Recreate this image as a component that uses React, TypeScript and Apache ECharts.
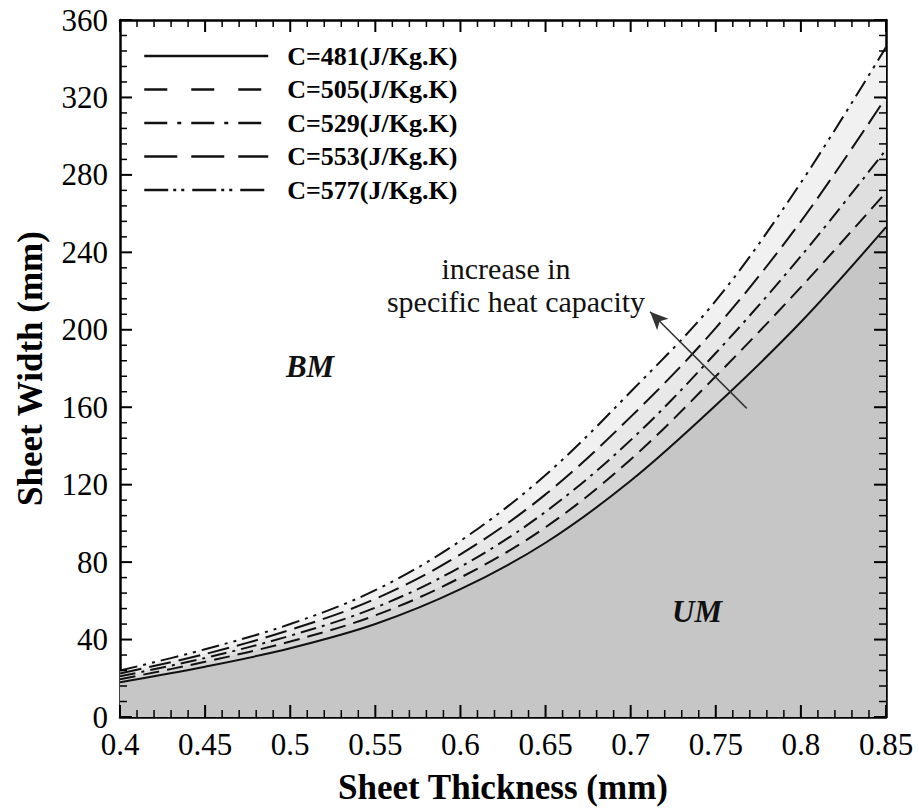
import React, { useEffect, useRef } from "react";
import * as echarts from "echarts";

const thickness = [0.4, 0.45, 0.5, 0.55, 0.6, 0.65, 0.7, 0.75, 0.8, 0.85];
const width481 = [18, 26, 35.5, 48, 66, 90, 122, 161, 204, 253];
const width505 = [19.5, 28.5, 39, 52.5, 72, 98, 133, 176, 222, 271];
const width529 = [21, 30.5, 42, 56.5, 77.5, 106, 143, 188, 238, 293];
const width553 = [22.5, 32.5, 45, 61, 84, 115, 155, 201, 256, 320];
const width577 = [24, 35, 48, 65.5, 91, 125, 168, 215, 276, 346];

const names = [
  "C=481(J/Kg.K)",
  "C=505(J/Kg.K)",
  "C=529(J/Kg.K)",
  "C=553(J/Kg.K)",
  "C=577(J/Kg.K)",
];

const X_MIN = 0.4;
const X_MAX = 0.85;
const X_STEP = 0.05;
const Y_MIN = 0;
const Y_MAX = 360;
const Y_STEP = 40;
const MINOR_SPLIT = 5;

const arrowTail = [0.7682, 159.4];
const arrowHead = [0.7114, 209.3];

const SERIF = "'Liberation Serif', 'Times New Roman', serif";

export default function App() {
  const ref = useRef<HTMLDivElement>(null);
  useEffect(() => {
    if (!ref.current) return;
    const chart = echarts.init(ref.current, undefined, { renderer: "svg" });
    const toPts = (ys: number[]) => thickness.map((x, i) => [x, ys[i]]);
    const plotDash: any[] = [
      "solid",
      [16, 8],
      [16, 6, 3, 6],
      [22, 8],
      [18, 6, 3, 6, 3, 6],
    ];
    const legendDash: any[] = [
      "solid",
      [23, 24],
      [23, 10, 4, 10],
      [33, 14],
      [24, 5, 3, 5, 3, 8],
    ];
    const fills = ["#c6c6c6", "#d5d5d5", "#dfdfdf", "#e8e8e8", "#f1f1f1"];
    const datasets = [width481, width505, width529, width553, width577];

    const series: any[] = [];
    for (let i = 4; i >= 0; i--) {
      const s: any = {
        name: names[i],
        type: "line",
        data: toPts(datasets[i]),
        smooth: 0.35,
        symbol: "none",
        showSymbol: false,
        lineStyle: { color: "#111", width: 2, type: plotDash[i] },
        itemStyle: { color: "#111" },
        areaStyle: { color: fills[i], opacity: 1, origin: "start" },
        z: 2,
      };
      if (i === 0) {
        s.markLine = {
          silent: true,
          symbol: ["none", "arrow"],
          symbolSize: [12, 18],
          label: { show: false },
          lineStyle: { color: "#333", width: 1.5, type: "solid" },
          data: [[{ coord: arrowTail }, { coord: arrowHead }]],
        };
      }
      series.push(s);
    }

    // tick marks (inside, on all four sides)
    const tickData: number[][] = [];
    const nx = Math.round((X_MAX - X_MIN) / X_STEP);
    for (let i = 0; i <= nx * MINOR_SPLIT; i++) {
      const v = X_MIN + (i * X_STEP) / MINOR_SPLIT;
      tickData.push([v, Y_MIN, i % MINOR_SPLIT === 0 ? 0 : 1]);
    }
    const ny = Math.round((Y_MAX - Y_MIN) / Y_STEP);
    for (let i = 0; i <= ny * MINOR_SPLIT; i++) {
      const v = Y_MIN + (i * Y_STEP) / MINOR_SPLIT;
      tickData.push([X_MIN, v, i % MINOR_SPLIT === 0 ? 2 : 3]);
    }
    series.push({
      type: "custom",
      silent: true,
      clip: false,
      z: 20,
      data: tickData,
      encode: { x: 0, y: 1 },
      renderItem: (params: any, api: any) => {
        const kind = api.value(2);
        const major = kind === 0 || kind === 2;
        const len = major ? 12 : 7;
        const style = { stroke: "#000", lineWidth: major ? 2 : 1.5 };
        if (kind < 2) {
          const x = api.value(0);
          const a = api.coord([x, Y_MIN]);
          const b = api.coord([x, Y_MAX]);
          return {
            type: "group",
            children: [
              { type: "line", shape: { x1: a[0], y1: a[1], x2: a[0], y2: a[1] - len }, style },
              { type: "line", shape: { x1: b[0], y1: b[1], x2: b[0], y2: b[1] + len }, style },
            ],
          };
        }
        const y = api.value(1);
        const a = api.coord([X_MIN, y]);
        const b = api.coord([X_MAX, y]);
        return {
          type: "group",
          children: [
            { type: "line", shape: { x1: a[0], y1: a[1], x2: a[0] + len, y2: a[1] }, style },
            { type: "line", shape: { x1: b[0], y1: b[1], x2: b[0] - len, y2: b[1] }, style },
          ],
        };
      },
    });

    const axisLine = { show: true, onZero: false, lineStyle: { color: "#000", width: 2.5 } };

    chart.setOption({
      animation: false,
      backgroundColor: "#fff",
      grid: { left: 120, right: 33, top: 20, bottom: 94 },
      legend: {
        orient: "vertical",
        left: 138,
        top: 38,
        itemWidth: 124,
        itemHeight: 14,
        itemGap: 7.5,
        itemStyle: { opacity: 0 },
        data: names.map((n, i) => ({
          name: n,
          lineStyle: { type: legendDash[i], width: 2.5, color: "#111" },
        })),
        textStyle: {
          fontFamily: SERIF,
          fontWeight: "bold",
          fontSize: 26,
          lineHeight: 25,
          color: "#000",
          padding: [0, 0, 0, 14],
        },
      },
      xAxis: [
        {
          type: "value",
          min: X_MIN,
          max: X_MAX,
          interval: X_STEP,
          position: "bottom",
          name: "Sheet Thickness (mm)",
          nameLocation: "middle",
          nameGap: 53,
          nameTextStyle: { fontFamily: SERIF, fontWeight: "bold", fontSize: 35, color: "#000" },
          axisLabel: {
            fontFamily: SERIF,
            fontSize: 31,
            color: "#000",
            margin: 12,
            formatter: (v: number) => String(+v.toFixed(2)),
          },
          axisLine,
          axisTick: { show: false },
          splitLine: { show: false },
        },
        {
          type: "value",
          min: X_MIN,
          max: X_MAX,
          interval: X_STEP,
          position: "top",
          axisLabel: { show: false },
          axisLine,
          axisTick: { show: false },
          splitLine: { show: false },
        },
      ],
      yAxis: [
        {
          type: "value",
          min: Y_MIN,
          max: Y_MAX,
          interval: Y_STEP,
          position: "left",
          name: "Sheet Width (mm)",
          nameLocation: "middle",
          nameGap: 72,
          nameTextStyle: { fontFamily: SERIF, fontWeight: "bold", fontSize: 35, color: "#000" },
          axisLabel: { fontFamily: SERIF, fontSize: 31, color: "#000", margin: 12 },
          axisLine,
          axisTick: { show: false },
          splitLine: { show: false },
        },
        {
          type: "value",
          min: Y_MIN,
          max: Y_MAX,
          interval: Y_STEP,
          position: "right",
          axisLabel: { show: false },
          axisLine,
          axisTick: { show: false },
          splitLine: { show: false },
        },
      ],
      series,
      graphic: [
        {
          type: "text",
          x: 506,
          y: 268,
          z: 10,
          style: {
            text: "increase in",
            font: `30px ${SERIF}`,
            fill: "#111",
            align: "center",
            verticalAlign: "middle",
          },
        },
        {
          type: "text",
          x: 516,
          y: 301,
          z: 10,
          style: {
            text: "specific heat capacity",
            font: `30px ${SERIF}`,
            fill: "#111",
            align: "center",
            verticalAlign: "middle",
          },
        },
        {
          type: "text",
          x: 310,
          y: 366,
          z: 10,
          style: {
            text: "BM",
            font: `italic bold 31px ${SERIF}`,
            fill: "#111",
            align: "center",
            verticalAlign: "middle",
          },
        },
        {
          type: "text",
          x: 697,
          y: 611,
          z: 10,
          style: {
            text: "UM",
            font: `italic bold 31px ${SERIF}`,
            fill: "#111",
            align: "center",
            verticalAlign: "middle",
          },
        },
      ],
    });
    return () => chart.dispose();
  }, []);
  return <div ref={ref} style={{ width: 919, height: 811, position: "absolute", left: 0, top: 0 }} />;
}
